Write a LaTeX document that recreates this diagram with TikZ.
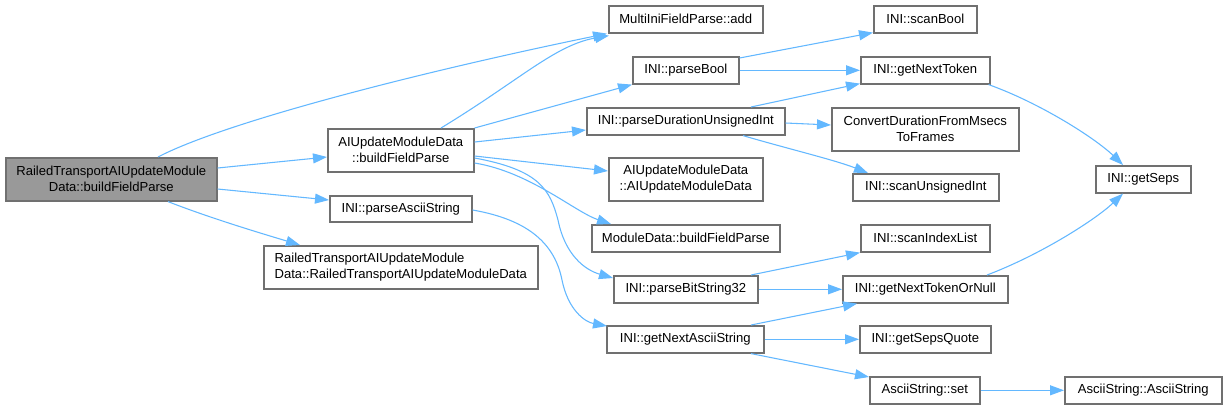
\documentclass[tikz,border=0pt]{standalone}
\usepackage{fontspec}
\setmainfont{Liberation Sans}
\usetikzlibrary{arrows.meta,calc}
\definecolor{edgec}{HTML}{63B8FF}
\definecolor{boxb}{HTML}{707070}
\definecolor{rootf}{HTML}{999999}
\tikzset{
  box/.style={draw=boxb, line width=1.2pt, fill=white, anchor=north west, inner sep=0pt,
    font=\fontsize{9.8}{12}\selectfont, align=center},
  sz/.style 2 args={minimum width=#1*0.75pt, minimum height=#2*0.75pt},
  edge/.style={draw=edgec, line width=0.8pt, -{Triangle[length=10.5pt,width=7.5pt]}}
}
\begin{document}
\begin{tikzpicture}[x=0.75pt,y=-0.75pt]
\fill[white] (0,0) rectangle (1226,408);
\useasboundingbox (0,0) rectangle (1226,408);
% column 0
\node[box, sz={211}{43}, fill=rootf] (root) at (5,157) {RailedTransportAIUpdateModule\\Data::buildFieldParse};
% column 1
\node[box, sz={146}{43}] (aibfp) at (327,128) {AIUpdateModuleData\\::buildFieldParse};
\node[box, sz={142}{26}] (pas) at (329,195) {INI::parseAsciiString};
\node[box, sz={274}{43}, align=left] (rtctor) at (263,245) {RailedTransportAIUpdateModule\\Data::RailedTransportAIUpdateModuleData};
% column 2
\node[box, sz={154}{27}] (add) at (608,5) {MultiIniFieldParse::add};
\node[box, sz={106}{27}] (pbool) at (632,56) {INI::parseBool};
\node[box, sz={198}{27}] (pdui) at (586,107) {INI::parseDurationUnsignedInt};
\node[box, sz={154}{43}] (aictor) at (608,157) {AIUpdateModuleData\\::AIUpdateModuleData};
\node[box, sz={188}{27}] (mdbfp) at (591,224) {ModuleData::buildFieldParse};
\node[box, sz={144}{27}] (pbs) at (613,275) {INI::parseBitString32};
\node[box, sz={157}{27}] (gnas) at (606,325) {INI::getNextAsciiString};
% column 3
\node[box, sz={103}{27}] (sbool) at (873,5) {INI::scanBool};
\node[box, sz={129}{27}] (gnt) at (860,56) {INI::getNextToken};
\node[box, sz={187}{43}] (conv) at (831,107) {ConvertDurationFromMsecs\\ToFrames};
\node[box, sz={146}{27}] (sui) at (852,173) {INI::scanUnsignedInt};
\node[box, sz={129}{27}] (sil) at (860,224) {INI::scanIndexList};
\node[box, sz={165}{27}] (gnton) at (842,275) {INI::getNextTokenOrNull};
\node[box, sz={131}{27}] (gsq) at (859,325) {INI::getSepsQuote};
\node[box, sz={110}{27}] (aset) at (869,376) {AsciiString::set};
% column 4
\node[box, sz={95}{27}] (gseps) at (1095,165) {INI::getSeps};
\node[box, sz={157}{27}] (actor) at (1064,376) {AsciiString::AsciiString};
% edges from root
\draw[edge] ($(root.north west)+(153,0)$) .. controls (225,122) and (420,72) .. ($(add.south west)+(-1,0)$);
\draw[edge] ($(root.north east)+(0,11)$) -- ($(aibfp.north west)+(0,29)$);
\draw[edge] ($(root.north east)+(0,32)$) -- ($(pas.north west)+(0,5)$);
\draw[edge] ($(root.south west)+(163,0)$) .. controls (210,218) and (260,233) .. ($(rtctor.north west)+(37,0)$);
% edges from AIUpdateModuleData::buildFieldParse
\draw[edge] ($(aibfp.north west)+(114,0)$) .. controls (520,80) and (555,45) .. ($(add.south west)+(1,2)$);
\draw[edge] (aibfp.north east) -- (pbool.south west);
\draw[edge] ($(aibfp.north east)+(0,14)$) -- ($(pdui.north west)+(0,23)$);
\draw[edge] ($(aibfp.north east)+(0,28)$) -- ($(aictor.north west)+(0,14)$);
\draw[edge] ($(aibfp.north east)+(0,35)$) .. controls (530,172) and (575,212) .. ($(mdbfp.north west)+(20,0)$);
\draw[edge] ($(aibfp.north east)+(0,30)$) .. controls (540,170) and (550,190) .. (558,220) .. controls (565,255) and (585,270) .. ($(pbs.north west)+(0,3)$);
% parseAsciiString
\draw[edge] ($(pas.north east)+(0,15)$) .. controls (530,220) and (555,245) .. (562,280) .. controls (568,310) and (585,322) .. ($(gnas.north west)+(1,1)$);
% parseBool
\draw[edge] ($(pbool.north east)+(0,2)$) -- ($(sbool.south west)+(0,-1)$);
\draw[edge] (pbool.east) -- (gnt.west);
% parseDurationUnsignedInt
\draw[edge] ($(pdui.north west)+(165,0)$) -- ($(gnt.south west)+(0,-1)$);
\draw[edge] ($(pdui.north east)+(0,16)$) -- ($(conv.north west)+(0,18)$);
\draw[edge] ($(pdui.south west)+(157,0)$) .. controls (785,148) and (835,160) .. ($(sui.north west)+(16,0)$);
% getNextToken
\draw[edge] ($(gnt.south east)+(-2,0)$) .. controls (1040,103) and (1095,138) .. ($(gseps.north west)+(28,0)$);
% parseBitString32
\draw[edge] ($(pbs.north west)+(138,0)$) -- (sil.south west);
\draw[edge] (pbs.east) -- (gnton.west);
% getNextTokenOrNull
\draw[edge] ($(gnton.north west)+(145,0)$) .. controls (1040,255) and (1095,220) .. ($(gseps.south west)+(28,0)$);
% getNextAsciiString
\draw[edge] ($(gnas.north west)+(145,0)$) -- ($(gnton.south west)+(15,0)$);
\draw[edge] (gnas.east) -- (gsq.west);
\draw[edge] ($(gnas.south west)+(145,0)$) -- ($(aset.north west)+(0,1)$);
% AsciiString::set
\draw[edge] (aset.east) -- (actor.west);
\end{tikzpicture}
\end{document}
